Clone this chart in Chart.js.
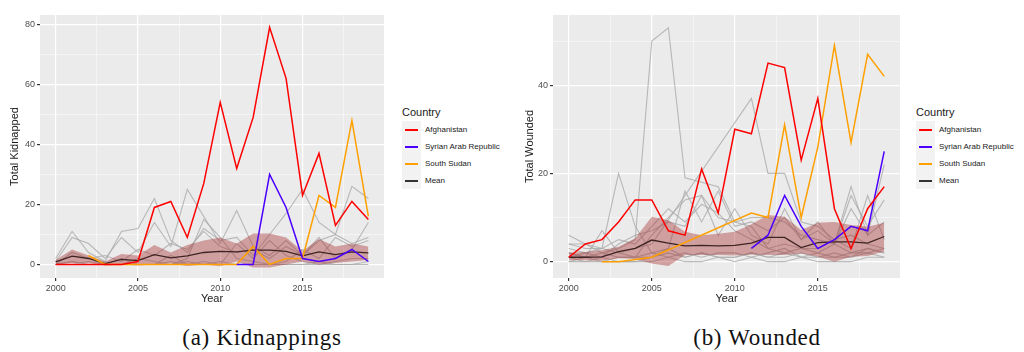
<!DOCTYPE html>
<html>
<head>
<meta charset="utf-8">
<script src="https://cdn.jsdelivr.net/npm/chart.js@4"></script>
<style>
  body { margin: 0; background: #fff; width: 1024px; height: 352px; overflow: hidden; position: relative; font-family: "Liberation Sans", Arial, sans-serif; }
  canvas { position: absolute; top: 0; }
  .legend { position: absolute; }
  .ltitle { font-size: 11px; color: #1a1a1a; height: 17px; line-height: 17px; }
  .lrow { position: relative; height: 17px; }
  .lkey { position: absolute; left: 0; top: 0; width: 19px; height: 17px; background: #F2F2F2; }
  .lkey span { position: absolute; left: 3px; top: 8px; width: 13px; height: 1.5px; }
  .ltext { position: absolute; left: 23px; top: 0; line-height: 17px; font-size: 8px; color: #1a1a1a; white-space: nowrap; }
  .cap { position: absolute; top: 325px; width: 300px; text-align: center; font-family: "Liberation Serif", serif; font-size: 23px; color: #111; letter-spacing: 0.7px; }
</style>
</head>
<body>
<canvas id="kid_chart" width="390" height="310" style="left:0px"></canvas>
<canvas id="wnd_chart" width="410" height="310" style="left:500px"></canvas>
<div id="kid_legend" class="legend" style="left:402px; top:104px"></div>
<div id="wnd_legend" class="legend" style="left:916px; top:104px"></div>
<div class="cap" style="left:112px">(a) Kidnappings</div>
<div class="cap" style="left:607px">(b) Wounded</div>
<script>
var years = [2000,2001,2002,2003,2004,2005,2006,2007,2008,2009,2010,2011,2012,2013,2014,2015,2016,2017,2018,2019];
var countries = ['Afghanistan', 'Syrian Arab Republic', 'South Sudan', 'Mean'];
var countryColors = ['#FF0000', '#4B00FF', '#FFA000', '#333333'];

// Kidnappings
var kidAfg = [0,0,0,0,0,1,19,21,9,27,54,32,49,79,62,23,37,13,21,15];
var kidSyr = [null,null,null,null,null,null,null,null,null,null,null,0,0,30,19,2,1,2,5,1];
var kidSsd = [null,null,3,0,0,0,0,0,0,0,0,0,6,0,2,2,23,19,48,16];
var kidMean = [0.9,2.8,2,0.3,1.7,1.3,3.3,2.2,2.9,4,4.4,4.2,4.8,4.8,4.4,2.9,4.2,3.3,4.2,3.9];
var kidUpper = [1.5,5,3,1,3.5,3,6.5,4,6.5,8,9,7,10.3,10.3,9,4.5,8.5,6,7,6];
var kidLower = [0,0.5,0.5,-0.3,0,-0.3,0,0.3,-0.5,0,-0.6,1,-1,-1,0,1,0,0.5,1,1.5];
var kidOthers = [
  [2,11,4,1,11,12,22,8,4,12,8,9,3,10,17,25,14,10,7,9],
  [1,9,7,2,9,4,14,6,25,16,7,18,6,3,8,3,8,10,26,22],
  [0,4,2,3,1,5,3,7,5,11,6,4,5,2,6,3,9,2,5,14],
  [0,1,0,0,0,2,1,0,2,15,9,2,1,0,1,5,2,9,6,8],
  [0,0,1,0,2,0,0,3,0,1,0,7,2,8,3,1,0,1,2,2],
  [0,0,0,0,0,0,0,0,1,0,0,0,0,0,0,0,0,0,0,0],
  [0,1,0,0,0,0,0,1,0,0,1,0,0,0,0,0,1,0,0,1]
];

// Wounded
var wndAfg = [1,4,5,9,14,14,7,6,21,11,30,29,45,44,23,37,12,3,12,17];
var wndSyr = [null,null,null,null,null,null,null,null,null,null,null,3,6,15,8,3,5,8,7,25];
var wndSsd = [null,null,0,0,null,1,null,null,null,null,null,11,10,31,10,26,49,27,47,42];
var wndMean = [1,1,1.1,2.3,3,4.9,4.2,3.6,3.7,3.6,3.7,4.2,5.5,5.5,3.2,4.3,4.5,4.5,4.2,5.7];
var wndUpper = [2.1,2.2,2.6,3.4,5.3,10.2,9.4,6.8,6,6.3,6.8,8.5,10.6,10.2,7.2,8.8,9,8.3,7.9,8.8];
var wndLower = [0.3,0.3,0.2,0.8,0.6,-0.4,-1,1.5,1.5,1.5,1.4,1.6,1.5,1.5,1.9,1.1,0,1.1,1.3,2.3];
var wndOthers = [
  [6,4,2,3,5,50,53,19,18,17,9,8,3,2,3,2,4,2,3,2],
  [4,4,3,2,3,4,null,null,null,null,null,37,20,20,9,8,5,6,4,3],
  [3,2,3,20,8,2,3,16,9,16,8,9,7,10,5,9,4,17,6,22],
  [2,1,7,2,1,6,10,14,15,6,12,6,4,12,5,7,4,15,8,14],
  [4,3,3,5,4,8,12,9,13,11,7,5,3,4,3,3,5,3,15,5],
  [1,2,1,4,6,7,9,8,15,10,9,10,10,9,6,5,4,12,6,9],
  [0,1,0,1,1,2,1,2,1,2,2,1,2,3,1,2,1,2,2,3],
  [1,0,1,0,0,1,2,1,2,1,1,2,1,1,2,1,1,1,3,2],
  [0,0,0,0,0,0,1,0,0,1,0,1,0,0,1,0,0,0,1,1],
  [2,1,2,1,1,1,3,1,2,1,1,2,1,2,1,1,2,1,2,1]
];

var xTicks = [2000,2002.5,2005,2007.5,2010,2012.5,2015,2017.5];
var kidYTicks = [0,10,20,30,40,50,60,70,80];
var wndYTicks = [0,10,20,30,40,50];

Chart.defaults.font.family = '"Liberation Sans", Arial, sans-serif';
Chart.defaults.animation = false;

var panelBg = {
  id: 'panelBg',
  beforeDraw: function(chart) {
    var a = chart.chartArea, c = chart.ctx;
    c.save();
    c.fillStyle = '#EBEBEB';
    c.fillRect(a.left, a.top, a.right - a.left, a.bottom - a.top);
    c.restore();
  }
};

function pts(vals) {
  return vals.map(function(v, i) { return {x: years[i], y: v}; });
}

function line(vals, color, width, order) {
  return { data: pts(vals), borderColor: color, borderWidth: width, pointRadius: 0, fill: false, spanGaps: true, tension: 0, order: order };
}

function makeDatasets(afg, syr, ssd, mean, upper, lower, others) {
  var sets = [
    line(afg, countryColors[0], 1.5, 0),
    line(syr, countryColors[1], 1.5, 0),
    line(ssd, countryColors[2], 1.5, 0),
    line(mean, '#3f2424', 1.3, 1)
  ];
  var up = line(upper, 'rgba(0,0,0,0)', 0, 2);
  up.fill = '+1';
  up.backgroundColor = 'rgba(165,42,42,0.4)';
  sets.push(up);
  sets.push(line(lower, 'rgba(0,0,0,0)', 0, 2));
  others.forEach(function(g) {
    sets.push(line(g, 'rgba(170,170,170,0.8)', 1.1, 3));
  });
  return sets;
}

function isMajor(v, step) {
  return Math.abs(v % step) < 1e-6;
}

function axis(tickList, step, min, max, size, titleText, titlePad, horizontal) {
  return {
    type: 'linear',
    min: min,
    max: max,
    afterBuildTicks: function(s) {
      s.ticks = tickList.map(function(v) { return {value: v}; });
    },
    afterFit: function(s) {
      if (horizontal) { s.height = size; } else { s.width = size; }
    },
    ticks: {
      autoSkip: false,
      maxRotation: 0,
      padding: 2,
      color: '#4D4D4D',
      font: {size: 9},
      callback: function(v) { return isMajor(v, step) ? String(v) : ''; }
    },
    grid: {
      color: '#FFFFFF',
      lineWidth: function(c) { return c.tick && isMajor(c.tick.value, step) ? 1.2 : 0.5; },
      tickLength: 3,
      tickColor: function(c) { return c.tick && isMajor(c.tick.value, step) ? '#333333' : 'rgba(0,0,0,0)'; }
    },
    border: { display: false },
    title: {
      display: true,
      text: titleText,
      color: '#1A1A1A',
      font: {size: 11},
      padding: titlePad
    }
  };
}

function makeChart(id, datasets, yTicks, yMin, yMax, yWidth, yTitle, yPad, padRight) {
  return new Chart(id, {
    type: 'line',
    data: { datasets: datasets },
    plugins: [panelBg],
    options: {
      responsive: false,
      maintainAspectRatio: false,
      layout: { padding: {left: 0, right: padRight, top: 15, bottom: 0} },
      plugins: { legend: { display: false }, tooltip: { enabled: false } },
      scales: {
        x: axis(xTicks, 5, 1999.05, 2019.95, 32, 'Year', {top: 0, bottom: 4}, true),
        y: axis(yTicks, 20, yMin, yMax, yWidth, yTitle, {top: yPad, bottom: 0}, false)
      }
    }
  });
}

makeChart('kid_chart', makeDatasets(kidAfg, kidSyr, kidSsd, kidMean, kidUpper, kidLower, kidOthers),
  kidYTicks, -4.5, 83.1, 40, 'Total Kidnapped', 8.4, 6);
makeChart('wnd_chart', makeDatasets(wndAfg, wndSyr, wndSsd, wndMean, wndUpper, wndLower, wndOthers),
  wndYTicks, -3.7, 55.9, 53, 'Total Wounded', 23.4, 10);

function makeLegend(id) {
  var el = document.getElementById(id);
  var html = '<div class="ltitle">Country</div>';
  countries.forEach(function(name, i) {
    html += '<div class="lrow"><div class="lkey"><span style="background:' + countryColors[i] + '"></span></div>' +
      '<div class="ltext">' + name + '</div></div>';
  });
  el.innerHTML = html;
}
makeLegend('kid_legend');
makeLegend('wnd_legend');
</script>
</body>
</html>
